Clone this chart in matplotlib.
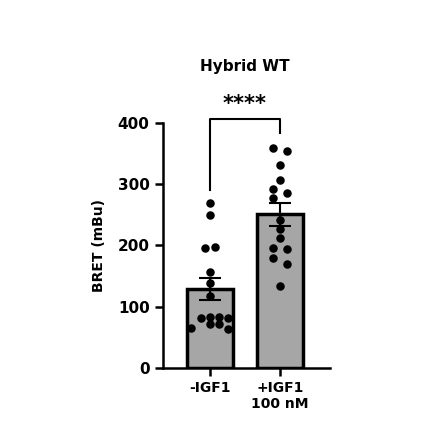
import matplotlib.pyplot as plt
import numpy as np

labels = ["-IGF1", "+IGF1\n100 nM"]
minus_igf1 = [269, 249, 195, 198, 157, 139, 118, 81, 83, 83, 81, 71, 72, 65, 63]
plus_igf1 = [360, 354, 331, 307, 293, 285, 278, 241, 227, 212, 196, 194, 179, 170, 134]
jitter_minus = [0, 0, -0.2, 0.2, 0, 0, 0, -0.4, 0, 0.4, 0.8, 0, 0.4, -0.8, 0.8]
jitter_plus = [-0.3, 0.3, 0, 0, -0.3, 0.3, -0.3, 0, 0, 0, -0.3, 0.3, -0.3, 0.3, 0]

fig = plt.figure(figsize=(4.4, 4.41), dpi=100)
ax = fig.add_axes([0.37, 0.166, 0.38, 0.555])

groups = [minus_igf1, plus_igf1]
jit = [jitter_minus, jitter_plus]
for i, vals in enumerate(groups):
    vals = np.array(vals)
    m = vals.mean()
    sem = vals.std(ddof=1) / np.sqrt(len(vals))
    ax.bar(i, m, width=0.65, color="#a6a6a6", edgecolor="black", linewidth=2.5, zorder=1)
    ax.scatter(i + np.array(jit[i]) * 0.33, vals, s=26, color="black", zorder=3)
    ax.errorbar(i, m, yerr=sem, color="black", capsize=8, capthick=1.5, elinewidth=1.5, zorder=4)

ax.plot([0, 0, 1, 1], [291, 407, 407, 383], color="black", lw=1.5, clip_on=False)
ax.text(0.5, 415, "****", ha="center", va="bottom", fontsize=15, fontweight="bold")
ax.text(0.5, 480, "Hybrid WT", ha="center", va="bottom", fontsize=11, fontweight="bold")

ax.set_ylim(0, 400)
ax.set_xlim(-0.67, 1.71)
ax.set_yticks([0, 100, 200, 300, 400])
ax.set_xticks([0, 1])
ax.set_xticklabels(labels, fontsize=10, fontweight="bold")
for t in ax.get_yticklabels():
    t.set_fontweight("bold")
    t.set_fontsize(11)
ax.set_ylabel("BRET (mBu)", fontsize=10, fontweight="bold", labelpad=8)
ax.spines["top"].set_visible(False)
ax.spines["right"].set_visible(False)
ax.spines["left"].set_linewidth(1.8)
ax.spines["bottom"].set_linewidth(1.8)
ax.tick_params(width=1.8, length=6)

fig.savefig("out.png", dpi=100)
